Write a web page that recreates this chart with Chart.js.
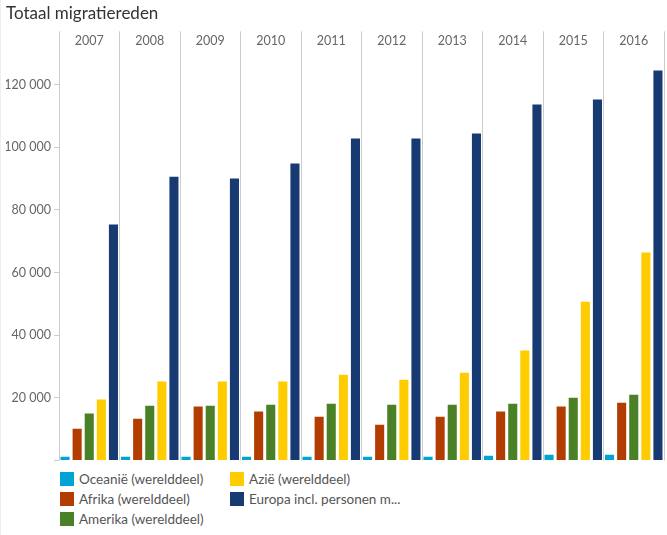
<!DOCTYPE html>
<html>
<head>
<meta charset="utf-8">
<script src="https://cdn.jsdelivr.net/npm/chart.js@4/dist/chart.umd.min.js"></script>
<style>
  body { margin: 0; background: #fff; font-family: Lato, "Noto Sans", sans-serif; }
  #wrap { position: relative; width: 667px; height: 535px; border-left: 1px solid #eef0f0; box-sizing: border-box; }
  #chartBox { position: absolute; left: 0; top: 0; width: 666px; height: 471px; }
  #legend { position: absolute; left: 59px; top: 472px; display: grid; grid-template-rows: 20px 20px 20px; grid-auto-flow: column; grid-template-columns: 170px 200px; }
  .item { display: flex; align-items: flex-start; font-size: 13.5px; color: #555; line-height: 14px; }
  .box { width: 14px; height: 14px; margin-right: 5px; flex: none; }
</style>
</head>
<body>
<div id="wrap">
  <div id="chartBox"><canvas id="chart"></canvas></div>
  <div id="legend"></div>
</div>
<script>
// categorieën en reeksen
const years = ['2007', '2008', '2009', '2010', '2011', '2012', '2013', '2014', '2015', '2016'];
const oceanie = [1200, 1200, 1200, 1200, 1200, 1200, 1200, 1500, 1800, 1800];
const afrika = [10100, 13300, 17200, 15600, 14000, 11400, 14000, 15600, 17200, 18400];
const amerika = [15000, 17500, 17500, 17800, 18100, 17800, 17800, 18100, 20000, 21000];
const azie = [19500, 25200, 25200, 25200, 27400, 25800, 28000, 35100, 50700, 66400];
const europa = [75300, 90600, 90000, 94800, 102800, 102800, 104400, 113600, 115200, 124500];
const seriesNames = ['Oceanië (werelddeel)', 'Afrika (werelddeel)', 'Amerika (werelddeel)', 'Azië (werelddeel)', 'Europa incl. personen m...'];
const seriesColors = ['#00a3d3', '#b33c00', '#4a8126', '#ffcc00', '#163a71'];
const yTicks = [0, 20000, 40000, 60000, 80000, 100000, 120000];

const fmt = v => String(v).replace(/\B(?=(\d{3})+(?!\d))/g, ' ');
const grey = '#cccccc';

const chart = new Chart(document.getElementById('chart'), {
    type: 'bar',
    data: {
        labels: years,
        datasets: [oceanie, afrika, amerika, azie, europa].map((d, i) => ({
            label: seriesNames[i],
            data: d,
            backgroundColor: seriesColors[i],
            barPercentage: 0.75,
            categoryPercentage: 1.0
        }))
    },
    options: {
        responsive: true,
        maintainAspectRatio: false,
        animation: false,
        layout: { padding: { left: 5, right: 3, top: 0, bottom: 6 } },
        plugins: {
            legend: { display: false },
            tooltip: { enabled: false },
            title: {
                display: true,
                text: 'Totaal migratiereden',
                align: 'start',
                color: '#333',
                font: { family: 'Lato', size: 17, weight: 'normal' },
                padding: { top: 3, bottom: 5 }
            }
        },
        scales: {
            x: {
                position: 'top',
                grid: { offset: true, color: grey, lineWidth: 1, tickLength: 24, tickColor: grey },
                border: { display: false },
                ticks: { color: '#666', font: { family: 'Lato', size: 12.5 }, padding: -17, maxRotation: 0 },
                afterFit: s => { s.height = 27; }
            },
            y: {
                min: 0,
                max: 129300,
                grid: { drawOnChartArea: false, tickLength: 5, tickColor: grey },
                border: { display: false },
                afterBuildTicks: s => { s.ticks = yTicks.map(v => ({ value: v })); },
                ticks: {
                    color: '#666',
                    font: { family: 'Lato', size: 12.5 },
                    padding: 3,
                    callback: v => (v === 0 ? '' : fmt(v))
                },
                afterFit: s => { s.width = 53; }
            }
        }
    }
});

// legenda in twee kolommen
const legendEl = document.getElementById('legend');
chart.data.datasets.forEach(ds => {
    const item = document.createElement('div');
    item.className = 'item';
    item.innerHTML = '<span class="box" style="background:' + ds.backgroundColor + '"></span><span>' + ds.label + '</span>';
    legendEl.appendChild(item);
});
</script>
</body>
</html>
